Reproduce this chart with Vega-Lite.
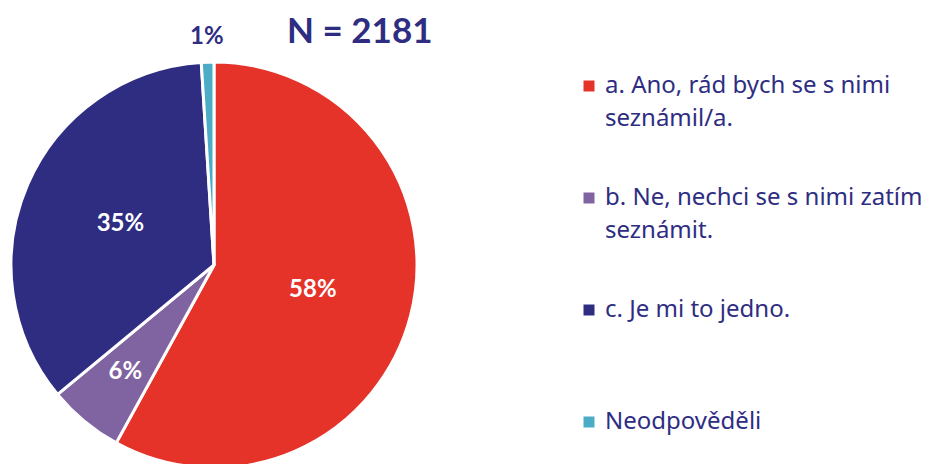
{
  "$schema": "https://vega.github.io/schema/vega-lite/v6.json",
  "width": 428,
  "height": 530,
  "padding": 0,
  "autosize": {"type": "pad"},
  "background": "white",
  "title": {"text": "N = 2181", "anchor": "start", "frame": "group", "dx": 287, "offset": -50, "orient": "top", "fontSize": 35, "font": "Lato", "fontWeight": "bold", "color": "#2e2d82"},
  "config": {"style": {"guide-label": {"lineHeight": 33}}},
  "data": {"values": [
    {"category": "a. Ano, rád bych se s nimi seznámil/a.", "value": 58, "label": "58%", "order": 1},
    {"category": "b. Ne, nechci se s nimi zatím seznámit.", "value": 6, "label": "6%", "order": 2},
    {"category": "c. Je mi to jedno.", "value": 35, "label": "35%", "order": 3},
    {"category": "Neodpověděli", "value": 1, "label": "1%", "order": 4}
  ]},
  "encoding": {
    "theta": {"field": "value", "type": "quantitative", "stack": true},
    "order": {"field": "order", "type": "quantitative"}
  },
  "layer": [
    {
      "mark": {"type": "arc", "outerRadius": 203, "stroke": "white", "strokeWidth": 3},
      "encoding": {
        "color": {
          "field": "category", "type": "nominal",
          "scale": {
            "domain": ["a. Ano, rád bych se s nimi seznámil/a.", "b. Ne, nechci se s nimi zatím seznámit.", "c. Je mi to jedno.", "Neodpověděli"],
            "range": ["#e5332a", "#8064a2", "#2e2d82", "#4bacc6"]
          },
          "legend": {
            "orient": "none", "legendX": 577, "legendY": 74, "title": null,
            "symbolType": "square", "symbolSize": 121, "symbolStrokeWidth": 0,
            "labelFontSize": 24, "labelFont": "Noto Sans", "labelColor": "#2e2d82", "labelOffset": 4,
            "labelLimit": 400, "rowPadding": 55,
            "labelExpr": "datum.value == 'a. Ano, rád bych se s nimi seznámil/a.' ? ['a. Ano, rád bych se s nimi', 'seznámil/a.'] : datum.value == 'b. Ne, nechci se s nimi zatím seznámit.' ? ['b. Ne, nechci se s nimi zatím', 'seznámit.'] : [datum.label, ' ']"
          }
        }
      }
    },
    {
      "mark": {"type": "text", "radius": 102, "fill": "white", "fontSize": 24, "font": "Lato", "fontWeight": "bold"},
      "encoding": {"text": {"condition": {"test": "datum.value >= 20", "field": "label"}, "value": ""}}
    },
    {
      "mark": {"type": "text", "radius": 139, "fill": "white", "fontSize": 24, "font": "Lato", "fontWeight": "bold"},
      "encoding": {"text": {"condition": {"test": "datum.value > 2 && datum.value < 20", "field": "label"}, "value": ""}}
    },
    {
      "mark": {"type": "text", "radius": 228, "fill": "#2e2d82", "fontSize": 24, "font": "Lato", "fontWeight": "bold"},
      "encoding": {"text": {"condition": {"test": "datum.value <= 2", "field": "label"}, "value": ""}}
    }
  ]
}
